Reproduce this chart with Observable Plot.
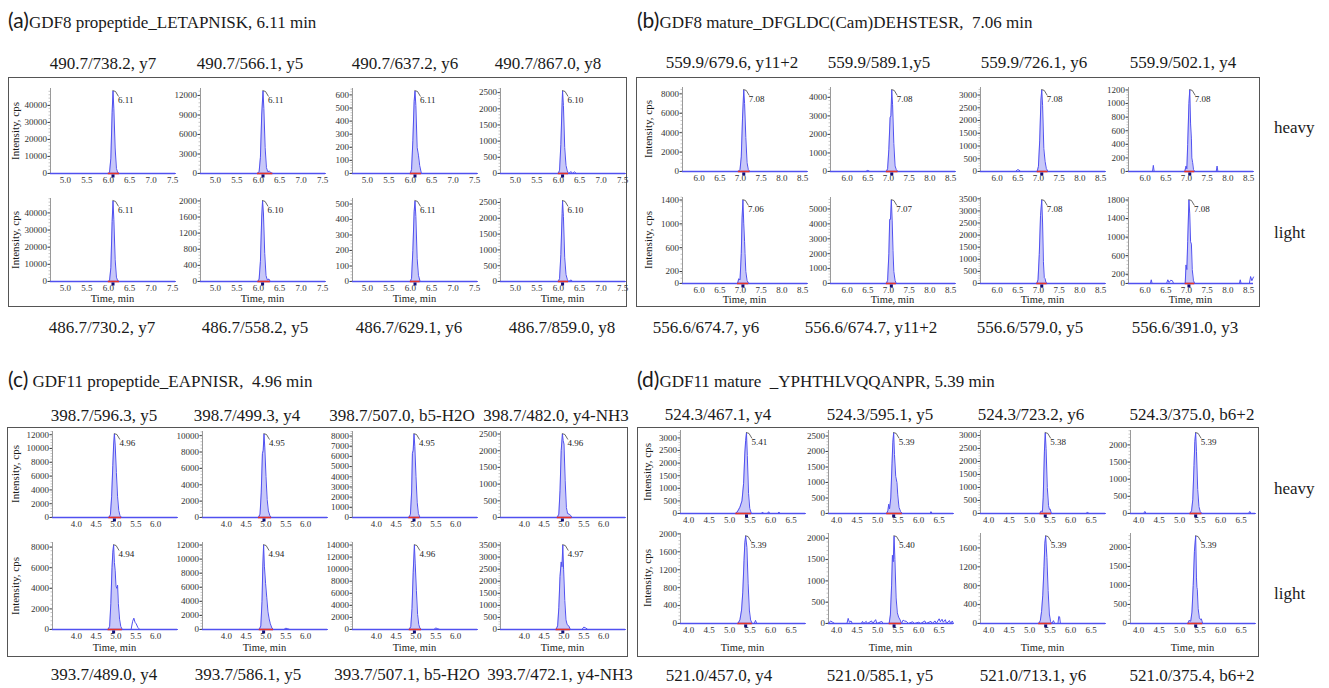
<!DOCTYPE html>
<html><head><meta charset="utf-8">
<script src="https://cdn.jsdelivr.net/npm/d3@7"></script>
<script src="https://cdn.jsdelivr.net/npm/@observablehq/plot@0.6"></script>
<style>
body{margin:0;background:#fff;}
#root{position:relative;width:1329px;height:688px;overflow:hidden;background:#fff;font-family:"Liberation Serif","DejaVu Serif","Times New Roman",serif;color:#1a1a1a;}
.t{position:absolute;white-space:pre;line-height:1;transform:translate(-50%,-50%);}
.box{position:absolute;border:1.5px solid #555;box-sizing:border-box;}
</style></head><body><div id="root"></div>
<script>
// ================= DATA =================
// ---- Panel (a) GDF8 propeptide ----
const aTitle = ["(a)", "GDF8 propeptide_LETAPNISK, 6.11 min"];
const aHeavyLabels = ["490.7/738.2, y7", "490.7/566.1, y5", "490.7/637.2, y6", "490.7/867.0, y8"];
const aLightLabels = ["486.7/730.2, y7", "486.7/558.2, y5", "486.7/629.1, y6", "486.7/859.0, y8"];
const aHeavyRT = ["6.11", "6.11", "6.11", "6.10"];
const aLightRT = ["6.11", "6.10", "6.11", "6.10"];
const aTimeDomain = [4.65, 7.57];
const aTimeTicks = [5.0, 5.5, 6.0, 6.5, 7.0, 7.5];
const aHeavyYTicks = [[0,10000,20000,30000,40000],[0,3000,6000,9000,12000],[0,100,200,300,400,500,600],[0,500,1000,1500,2000,2500]];
const aLightYTicks = [[0,10000,20000,30000,40000],[0,400,800,1200,1600,2000],[0,100,200,300,400,500],[0,500,1000,1500,2000,2500]];
const aH1 = [[4.65,0],[6.0,0],[6.03,800],[6.06,9000],[6.09,36000],[6.11,48500],[6.13,38000],[6.16,15000],[6.19,3000],[6.22,500],[6.26,0],[7.57,0]];
const aH2 = [[4.65,0],[5.98,0],[6.02,300],[6.05,2500],[6.08,9000],[6.11,12700],[6.13,10000],[6.16,4000],[6.19,900],[6.22,300],[6.26,350],[6.3,100],[6.34,0],[7.57,0]];
const aH3 = [[4.65,0],[6.0,0],[6.03,30],[6.06,250],[6.09,550],[6.11,630],[6.13,520],[6.16,200],[6.19,140],[6.22,60],[6.26,0],[7.57,0]];
const aH4 = [[4.65,0],[6.0,0],[6.03,100],[6.06,900],[6.09,2200],[6.10,2550],[6.12,2100],[6.15,800],[6.18,250],[6.21,80],[6.24,0],[6.3,60],[6.33,0],[6.38,50],[6.42,0],[7.57,0]];
const aL1 = [[4.65,0],[6.0,0],[6.03,600],[6.06,8000],[6.09,35000],[6.11,47000],[6.13,36000],[6.16,13000],[6.19,2500],[6.22,400],[6.26,0],[7.57,0]];
const aL2 = [[4.65,0],[5.99,0],[6.02,60],[6.05,500],[6.08,1600],[6.10,2000],[6.12,1700],[6.15,700],[6.18,150],[6.21,40],[6.25,60],[6.28,0],[7.57,0]];
const aL3 = [[4.65,0],[6.0,0],[6.03,20],[6.06,200],[6.09,450],[6.11,520],[6.13,420],[6.16,150],[6.19,40],[6.23,0],[7.57,0]];
const aL4 = [[4.65,0],[6.0,0],[6.03,90],[6.06,850],[6.09,2150],[6.10,2550],[6.12,2050],[6.15,750],[6.18,220],[6.21,70],[6.24,0],[6.3,50],[6.33,0],[7.57,0]];

// ---- Panel (b) GDF8 mature ----
const bTitle = ["(b)", "GDF8 mature_DFGLDC(Cam)DEHSTESR,  7.06 min"];
const bHeavyLabels = ["559.9/679.6, y11+2", "559.9/589.1,y5", "559.9/726.1, y6", "559.9/502.1, y4"];
const bLightLabels = ["556.6/674.7, y6", "556.6/674.7, y11+2", "556.6/579.0, y5", "556.6/391.0, y3"];
const bHeavyRT = ["7.08", "7.08", "7.08", "7.08"];
const bLightRT = ["7.06", "7.07", "7.08", "7.08"];
const bTimeDomain = [5.6, 8.62];
const bTimeTicks = [6.0, 6.5, 7.0, 7.5, 8.0, 8.5];
const bHeavyYTicks = [[0,2000,4000,6000,8000],[0,1000,2000,3000,4000],[0,500,1000,1500,2000,2500,3000],[0,200,400,600,800,1000,1200]];
const bLightYTicks = [[0,200,600,1000,1400],[0,1000,2000,3000,4000,5000],[0,500,1000,1500,2000,2500,3000,3500],[0,200,600,1000,1400,1800]];
const bH1 = [[5.6,0],[6.95,0],[6.99,200],[7.02,1500],[7.05,5500],[7.08,8400],[7.10,7000],[7.13,3500],[7.16,900],[7.19,200],[7.23,0],[8.62,0]];
const bH2 = [[5.6,0],[6.45,0],[6.5,60],[6.55,0],[6.95,0],[6.98,150],[7.01,1200],[7.04,2900],[7.06,3000],[7.08,4400],[7.10,3600],[7.13,1500],[7.16,300],[7.19,100],[7.23,0],[8.62,0]];
const bH3 = [[5.6,0],[6.45,0],[6.49,70],[6.53,60],[6.57,0],[6.97,0],[7.0,200],[7.03,1200],[7.06,2800],[7.08,3200],[7.10,2600],[7.13,900],[7.16,400],[7.19,120],[7.23,0],[8.62,0]];
const bH4 = [[5.6,0],[6.18,0],[6.2,90],[6.22,0],[6.96,0],[6.99,80],[7.01,40],[7.03,400],[7.06,1000],[7.08,1200],[7.10,700],[7.12,480],[7.13,200],[7.15,130],[7.17,30],[7.2,0],[7.72,0],[7.74,80],[7.76,0],[8.62,0]];
const bL1 = [[5.6,0],[6.93,0],[6.96,80],[6.99,60],[7.02,500],[7.04,1100],[7.06,1400],[7.08,1000],[7.10,700],[7.11,500],[7.13,200],[7.16,50],[7.2,0],[8.62,0]];
const bL2 = [[5.6,0],[6.95,0],[6.98,200],[7.01,2000],[7.03,4300],[7.05,4300],[7.07,5600],[7.09,4200],[7.11,2200],[7.13,800],[7.16,200],[7.19,0],[8.62,0]];
const bL3 = [[5.6,0],[6.96,0],[6.99,150],[7.02,1200],[7.05,2800],[7.08,3450],[7.10,2500],[7.12,900],[7.14,250],[7.16,200],[7.18,50],[7.21,0],[8.62,0]];
const bL4 = [[5.6,0],[6.13,0],[6.15,80],[6.17,0],[6.52,0],[6.55,80],[6.58,20],[6.62,70],[6.66,60],[6.69,0],[6.97,0],[6.99,400],[7.01,300],[7.03,900],[7.06,1800],[7.08,1500],[7.10,900],[7.12,850],[7.14,300],[7.17,60],[7.2,0],[8.28,0],[8.3,80],[8.32,0],[8.52,0],[8.55,150],[8.58,60],[8.62,140]];

// ---- Panel (c) GDF11 propeptide ----
const cTitle = ["(c)", " GDF11 propeptide_EAPNISR,  4.96 min"];
const cHeavyLabels = ["398.7/596.3, y5", "398.7/499.3, y4", "398.7/507.0, b5-H2O", "398.7/482.0, y4-NH3"];
const cLightLabels = ["393.7/489.0, y4", "393.7/586.1, y5", "393.7/507.1, b5-H2O", "393.7/472.1, y4-NH3"];
const cHeavyRT = ["4.96", "4.95", "4.95", "4.96"];
const cLightRT = ["4.94", "4.94", "4.96", "4.97"];
const cTimeDomain = [3.4, 6.55];
const cTimeTicks = [4.0, 4.5, 5.0, 5.5, 6.0];
const cHeavyYTicks = [[0,2000,4000,6000,8000,10000,12000],[0,2000,4000,6000,8000,10000],[0,1000,2000,3000,4000,5000,6000,7000,8000],[0,500,1000,1500,2000,2500]];
const cLightYTicks = [[0,2000,4000,6000,8000],[0,2000,4000,6000,8000,10000,12000],[0,2000,4000,6000,8000,10000,12000,14000],[0,500,1000,1500,2000,2500,3000,3500]];
const cH1 = [[3.4,0],[4.82,0],[4.86,400],[4.89,3000],[4.92,7500],[4.94,10500],[4.96,12100],[4.98,10500],[5.01,6500],[5.04,3000],[5.07,1000],[5.10,300],[5.14,0],[6.55,0]];
const cH2 = [[3.4,0],[4.81,0],[4.85,400],[4.88,3000],[4.91,7800],[4.93,8200],[4.95,10200],[4.97,8500],[5.0,5000],[5.03,2200],[5.06,800],[5.1,200],[5.14,0],[6.55,0]];
const cH3 = [[3.4,0],[4.82,0],[4.86,300],[4.89,2500],[4.91,6300],[4.93,6600],[4.95,8200],[4.97,7000],[5.0,4000],[5.03,1500],[5.06,400],[5.1,0],[6.55,0]];
const cH4 = [[3.4,0],[4.83,0],[4.87,100],[4.9,800],[4.93,2000],[4.96,2500],[4.98,2300],[5.0,2200],[5.03,1100],[5.06,300],[5.09,120],[5.13,100],[5.17,60],[5.2,0],[6.55,0]];
const cL1 = [[3.4,0],[4.8,0],[4.84,300],[4.87,2500],[4.9,6000],[4.92,7500],[4.94,8200],[4.96,6500],[4.98,5700],[5.0,4200],[5.02,4000],[5.04,4300],[5.06,2500],[5.09,1000],[5.12,300],[5.16,0],[5.38,0],[5.42,800],[5.45,1100],[5.48,700],[5.51,550],[5.55,200],[5.6,0],[6.55,0]];
const cL2 = [[3.4,0],[4.83,0],[4.87,500],[4.9,4000],[4.92,9000],[4.94,12000],[4.96,9000],[4.99,6500],[5.02,4500],[5.05,2500],[5.08,1500],[5.11,800],[5.15,200],[5.19,0],[5.45,0],[5.5,180],[5.55,100],[5.6,0],[6.55,0]];
const cL3 = [[3.4,0],[4.83,0],[4.87,500],[4.9,3500],[4.93,9500],[4.96,14000],[4.98,11000],[5.01,6500],[5.04,2500],[5.07,800],[5.1,200],[5.14,0],[5.45,0],[5.5,250],[5.55,120],[5.6,0],[6.55,0]];
const cL4 = [[3.4,0],[4.8,0],[4.84,150],[4.87,900],[4.9,2200],[4.93,2800],[4.95,2600],[4.97,3500],[4.99,2500],[5.02,1200],[5.05,400],[5.08,200],[5.12,150],[5.16,0],[5.45,0],[5.5,100],[5.55,60],[5.6,0],[6.55,0]];

// ---- Panel (d) GDF11 mature ----
const dTitle = ["(d)", "GDF11 mature  _YPHTHLVQQANPR, 5.39 min"];
const dHeavyLabels = ["524.3/467.1, y4", "524.3/595.1, y5", "524.3/723.2, y6", "524.3/375.0, b6+2"];
const dLightLabels = ["521.0/457.0, y4", "521.0/585.1, y5", "521.0/713.1, y6", "521.0/375.4, b6+2"];
const dHeavyRT = ["5.41", "5.39", "5.38", "5.39"];
const dLightRT = ["5.39", "5.40", "5.39", "5.39"];
const dTimeDomain = [3.8, 6.85];
const dTimeTicks = [4.0, 4.5, 5.0, 5.5, 6.0, 6.5];
const dHeavyYTicks = [[0,500,1000,1500,2000,2500,3000],[0,500,1000,1500,2000,2500],[0,500,1000,1500,2000,2500,3000],[0,500,1000,1500,2000]];
const dLightYTicks = [[0,400,800,1200,1600,2000],[0,500,1000,1500,2000],[0,400,800,1200,1600],[0,500,1000,1500,2000]];
const dH1 = [[3.8,0],[5.15,0],[5.2,100],[5.25,250],[5.3,500],[5.34,1200],[5.37,2400],[5.39,2900],[5.41,3200],[5.43,2300],[5.46,800],[5.49,200],[5.53,0],[5.78,0],[5.8,60],[5.83,0],[5.92,0],[5.95,70],[5.98,0],[6.18,0],[6.2,60],[6.23,0],[6.85,0]];
const dH2 = [[3.8,0],[5.22,0],[5.25,100],[5.27,300],[5.29,150],[5.32,500],[5.35,1600],[5.37,2300],[5.39,2600],[5.41,1900],[5.44,1200],[5.47,1000],[5.49,600],[5.52,200],[5.56,60],[5.6,0],[6.28,0],[6.3,60],[6.33,0],[6.85,0]];
const dH3 = [[3.8,0],[5.25,0],[5.28,100],[5.31,60],[5.33,600],[5.36,2400],[5.38,3100],[5.40,2500],[5.43,1000],[5.46,300],[5.48,160],[5.5,170],[5.53,0],[6.38,0],[6.41,60],[6.44,0],[6.85,0]];
const dH4 = [[3.8,0],[4.12,0],[4.15,60],[4.18,0],[5.25,0],[5.29,80],[5.32,400],[5.35,1400],[5.37,2100],[5.39,2350],[5.41,1800],[5.44,700],[5.47,200],[5.5,60],[5.54,0],[6.68,0],[6.71,60],[6.74,0],[6.85,0]];
const dL1 = [[3.8,0],[5.2,0],[5.25,80],[5.29,300],[5.32,700],[5.35,1400],[5.37,1800],[5.39,1950],[5.42,1700],[5.45,900],[5.48,300],[5.51,80],[5.55,0],[5.6,0],[5.63,70],[5.66,0],[6.85,0]];
const dL2 = [[3.8,0],[3.85,60],[3.9,30],[3.95,0],[4.25,0],[4.28,120],[4.31,30],[4.35,60],[4.38,0],[4.6,0],[4.63,50],[4.66,0],[4.72,50],[4.75,0],[4.85,60],[4.88,0],[4.95,90],[4.98,0],[5.1,50],[5.13,0],[5.28,0],[5.31,200],[5.34,900],[5.36,1600],[5.38,1450],[5.40,2050],[5.42,1500],[5.45,600],[5.48,250],[5.51,150],[5.55,80],[5.58,0],[5.62,80],[5.65,60],[5.7,50],[5.75,0],[5.85,40],[5.9,0],[6.0,30],[6.05,0],[6.15,60],[6.18,0],[6.3,50],[6.33,0],[6.4,60],[6.43,0],[6.5,110],[6.53,40],[6.57,100],[6.6,30],[6.65,90],[6.68,0],[6.75,70],[6.78,0],[6.82,60],[6.85,0]];
const dL3 = [[3.8,0],[5.22,0],[5.26,60],[5.29,250],[5.32,600],[5.35,1200],[5.37,1700],[5.39,1850],[5.42,1400],[5.45,700],[5.48,200],[5.51,40],[5.54,0],[5.58,60],[5.61,0],[5.69,0],[5.71,150],[5.73,140],[5.75,0],[6.85,0]];
const dL4 = [[3.8,0],[5.2,0],[5.23,80],[5.27,60],[5.3,300],[5.33,1000],[5.36,1900],[5.39,2300],[5.41,1200],[5.42,950],[5.43,900],[5.45,400],[5.48,150],[5.51,100],[5.53,120],[5.56,0],[6.85,0]];

const sideLabels = ["heavy", "light"];
const xLabel = "Time, min";
const yLabel = "Intensity, cps";

// ================= LAYOUT =================
const panels = [
  {title:aTitle, heavy:[aH1,aH2,aH3,aH4], light:[aL1,aL2,aL3,aL4], hRT:aHeavyRT, lRT:aLightRT, hTicks:aHeavyYTicks, lTicks:aLightYTicks, dom:aTimeDomain, tt:aTimeTicks, top:aHeavyLabels, bot:aLightLabels,
   L:{box:[8,77,627,307], tx:8, ty:21, axisX:[50,200,352,500], rows:[[88,173],[198,281]], topY:63, topX:[103,250,405,548], botY:327, botX:[102,255,409,562], timeY:299, intX:15, side:null}},
  {title:bTitle, heavy:[bH1,bH2,bH3,bH4], light:[bL1,bL2,bL3,bL4], hRT:bHeavyRT, lRT:bLightRT, hTicks:bHeavyYTicks, lTicks:bLightYTicks, dom:bTimeDomain, tt:bTimeTicks, top:bHeavyLabels, bot:bLightLabels,
   L:{box:[636,77,1260,307], tx:637, ty:21, axisX:[682,830,980,1128], rows:[[87,171],[197,283]], topY:62, topX:[732,879,1034,1183], botY:327, botX:[706,871,1030,1185], timeY:300, intX:648, side:[127,232]}},
  {title:cTitle, heavy:[cH1,cH2,cH3,cH4], light:[cL1,cL2,cL3,cL4], hRT:cHeavyRT, lRT:cLightRT, hTicks:cHeavyYTicks, lTicks:cLightYTicks, dom:cTimeDomain, tt:cTimeTicks, top:cHeavyLabels, bot:cLightLabels,
   L:{box:[7,427,628,657], tx:8, ty:380, axisX:[52,202,352,500], rows:[[431,517],[542,629]], topY:415, topX:[104,247,402,556], botY:674, botX:[104,248,407,560], timeY:648, intX:15, side:null}},
  {title:dTitle, heavy:[dH1,dH2,dH3,dH4], light:[dL1,dL2,dL3,dL4], hRT:dHeavyRT, lRT:dLightRT, hTicks:dHeavyYTicks, lTicks:dLightYTicks, dom:dTimeDomain, tt:dTimeTicks, top:dHeavyLabels, bot:dLightLabels,
   L:{box:[637,427,1259,657], tx:637, ty:380, axisX:[680,828,980,1130], rows:[[430,513],[533,623]], topY:414, topX:[718,880,1031,1192], botY:675, botX:[719,880,1033,1192], timeY:648, intX:647, side:[488,593]}}
];

const root = document.getElementById("root");
const ML = 40, MR = 3, MT = 3, MB = 14, PW = 125;
const SERIF = "Liberation Serif, DejaVu Serif, Times New Roman, serif";

function text(str, x, y, css) {
  const d = document.createElement("div");
  d.className = "t";
  d.textContent = str;
  d.style.left = x + "px"; d.style.top = y + "px";
  d.style.cssText += css || "";
  root.appendChild(d);
  return d;
}

function leader(apex) {
  return (index, scales) => {
    const x = scales.x(apex[0]), y = scales.y(apex[1]);
    return d3.create("svg:path")
      .attr("d", `M${x},${y}L${x+3},${y+1}L${x+6},${y+6}`)
      .attr("fill", "none").attr("stroke", "#444").attr("stroke-width", 0.8).node();
  };
}
function minorTicks(vals, x0) {
  return (index, scales) => {
    const g = d3.create("svg:g").attr("stroke", "#a0a0a0").attr("stroke-width", 0.6);
    const px = scales.x(x0);
    for (const v of vals) {
      const y = scales.y(v);
      g.append("line").attr("x1", px - 1.5).attr("x2", px).attr("y1", y).attr("y2", y);
    }
    return g.node();
  };
}

function chromatogram(trace, rt, yTicks, dom, tt, ph) {
  const ai = d3.maxIndex(trace, d => d[1]);
  const apex = trace[ai];
  let lo = ai, hi = ai;
  while (lo > 0 && trace[lo][1] > 0) lo--;
  while (hi < trace.length - 1 && trace[hi][1] > 0) hi++;
  const peak = trace.slice(lo, hi + 1);
  const ymax = apex[1] * 1.03;
  const step = (yTicks[yTicks.length - 1] - yTicks[yTicks.length - 2]) / 5;
  const minor = d3.range(0, ymax, step);
  return Plot.plot({
    width: PW + ML + MR, height: ph + MT + MB,
    marginLeft: ML, marginRight: MR, marginTop: MT, marginBottom: MB,
    style: {fontFamily: SERIF, fontSize: "9px", color: "#333", background: "transparent", overflow: "visible"},
    x: {domain: dom, ticks: tt, tickFormat: d3.format(".1f"), tickSize: 0, tickPadding: 3, label: null},
    y: {domain: [0, ymax], ticks: yTicks, tickFormat: d => String(d), tickSize: 2.5, tickPadding: 1, label: null},
    marks: [
      Plot.ruleX([dom[0]], {stroke: "#9a9a9a"}),
      minorTicks(minor, dom[0]),
      Plot.areaY(peak, {x: d => d[0], y: d => d[1], fill: "#c8c8f8"}),
      Plot.line(trace, {x: d => d[0], y: d => d[1], stroke: "#5050f0", strokeWidth: 1}),
      Plot.ruleY([0], {stroke: "#5050f0", strokeWidth: 1.6}),
      Plot.ruleY([0], {x1: peak[0][0], x2: peak[peak.length - 1][0], stroke: "#e5332a", strokeWidth: 1.6}),
      Plot.dot([apex], {x: d => d[0], y: 0, symbol: "square", r: 1.7, fill: "#10107a", dy: 2.5}),
      leader(apex),
      Plot.text([apex], {x: d => d[0], y: d => d[1], text: () => rt, dx: 5, dy: 9, textAnchor: "start", fontSize: 9, fill: "#222"})
    ]
  });
}

for (const p of panels) {
  const L = p.L;
  const box = document.createElement("div");
  box.className = "box";
  box.style.left = L.box[0] + "px"; box.style.top = L.box[1] + "px";
  box.style.width = (L.box[2] - L.box[0]) + "px"; box.style.height = (L.box[3] - L.box[1]) + "px";
  root.appendChild(box);

  const t = document.createElement("div");
  t.style.cssText = `position:absolute;left:${L.tx}px;top:${L.ty}px;transform:translateY(-55%);white-space:pre;line-height:1;`;
  const s1 = document.createElement("span"); s1.textContent = p.title[0];
  s1.style.cssText = "font-family:Lato,'Open Sans',sans-serif;font-size:21px;";
  const s2 = document.createElement("span"); s2.textContent = p.title[1];
  s2.style.cssText = "font-size:17px;";
  t.appendChild(s1); t.appendChild(s2); root.appendChild(t);

  for (let c = 0; c < 4; c++) {
    text(p.top[c], L.topX[c], L.topY, "font-size:17px;");
    text(p.bot[c], L.botX[c], L.botY, "font-size:17px;");
    const sets = [[p.heavy[c], p.hRT[c], p.hTicks[c]], [p.light[c], p.lRT[c], p.lTicks[c]]];
    sets.forEach(([tr, rt, tk], r) => {
      const [pt, z] = L.rows[r];
      const svg = chromatogram(tr, rt, tk, p.dom, p.tt, z - pt);
      svg.style.position = "absolute";
      svg.style.left = (L.axisX[c] - ML) + "px";
      svg.style.top = (pt - MT) + "px";
      root.appendChild(svg);
    });
    text(xLabel, L.axisX[c] + PW / 2, L.timeY, "font-size:10.5px;");
  }
  L.rows.forEach(([pt, z]) => {
    text(yLabel, L.intX, (pt + z) / 2, "font-size:11px;transform:translate(-50%,-50%) rotate(-90deg);");
  });
  if (L.side) {
    L.side.forEach((y, i) => {
      text(sideLabels[i], 1274, y, "font-size:17px;transform:translate(0,-50%);");
    });
  }
}
</script></body></html>
